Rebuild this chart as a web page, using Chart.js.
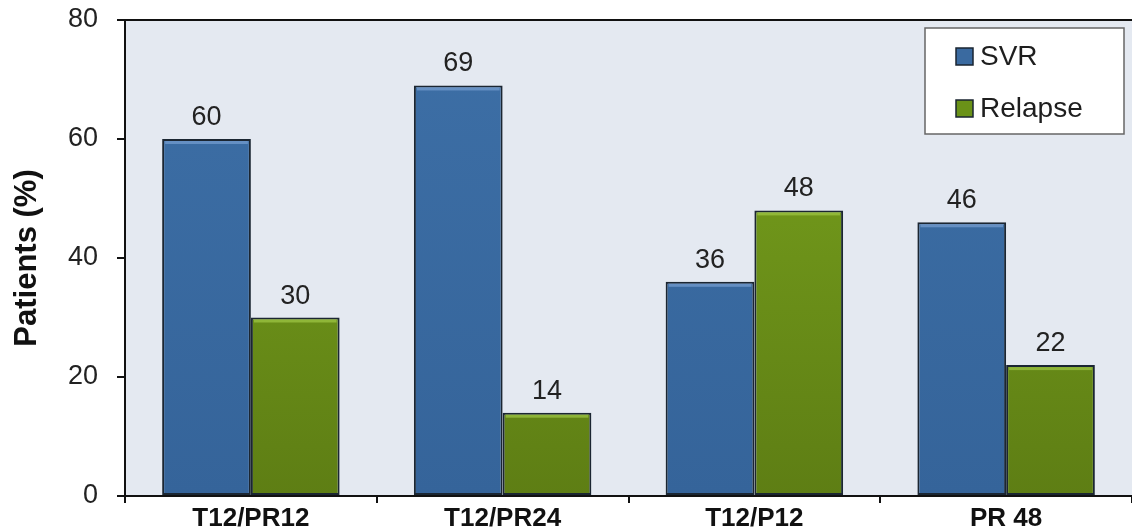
<!DOCTYPE html>
<html lang="en">
<head>
<meta charset="UTF-8">
<title>SVR vs Relapse</title>
<script src="https://cdn.jsdelivr.net/npm/chart.js"></script>
<style>
  html, body { margin: 0; padding: 0; background: #fff; }
  #wrap { width: 1132px; height: 532px; position: relative; }
</style>
</head>
<body>
<div id="wrap"><canvas id="grafica"></canvas></div>
<script>
// data
const categorias = ['T12/PR12', 'T12/PR24', 'T12/P12', 'PR 48'];
const svr = [60, 69, 36, 46];
const relapse = [30, 14, 48, 22];
const yTicks = [0, 20, 40, 60, 80];

const FONT = '"Liberation Sans", Arial, sans-serif';

function gradiente(ctx, top, bottom) {
    const area = ctx.chart.chartArea;
    if (!area) return top;
    const g = ctx.chart.ctx.createLinearGradient(0, area.top, 0, area.bottom);
    g.addColorStop(0, top);
    g.addColorStop(1, bottom);
    return g;
}

// fondo del area, linea superior, etiquetas y leyenda
const extras = {
    id: 'extras',
    beforeDraw(chart) {
        const { ctx, chartArea: a } = chart;
        ctx.save();
        ctx.fillStyle = '#e4e9f1';
        ctx.fillRect(a.left, a.top, a.right - a.left, a.bottom - a.top);
        ctx.restore();
    },
    afterDatasetsDraw(chart) {
        const { ctx, chartArea: a } = chart;
        ctx.save();
        // linea superior
        ctx.strokeStyle = '#111';
        ctx.lineWidth = 2;
        ctx.beginPath();
        ctx.moveTo(a.left, a.top);
        ctx.lineTo(a.right, a.top);
        ctx.stroke();

        // brillo arriba de cada barra
        chart.data.datasets.forEach((ds, i) => {
            chart.getDatasetMeta(i).data.forEach(bar => {
                const x0 = bar.x - bar.width / 2 + 3;
                ctx.fillStyle = i === 0 ? 'rgba(120,160,210,0.7)' : 'rgba(160,200,70,0.7)';
                ctx.fillRect(x0, bar.y + 2, bar.width - 6, 3);
            });
        });

        // valores sobre las barras
        ctx.fillStyle = '#222';
        ctx.font = '27px ' + FONT;
        ctx.textAlign = 'center';
        ctx.textBaseline = 'alphabetic';
        chart.data.datasets.forEach((ds, i) => {
            chart.getDatasetMeta(i).data.forEach((bar, j) => {
                ctx.fillText(ds.data[j], bar.x, bar.y - 14);
            });
        });

        // leyenda
        const lx = 925, ly = 28, lw = 199, lh = 106;
        ctx.fillStyle = '#fff';
        ctx.fillRect(lx, ly, lw, lh);
        ctx.strokeStyle = '#666';
        ctx.lineWidth = 1.5;
        ctx.strokeRect(lx, ly, lw, lh);
        const items = [
            { label: chart.data.datasets[0].label, color: '#3a6aa0', y: 56 },
            { label: chart.data.datasets[1].label, color: '#6a9218', y: 108 }
        ];
        ctx.textAlign = 'left';
        ctx.textBaseline = 'middle';
        ctx.font = '28px ' + FONT;
        items.forEach(it => {
            ctx.fillStyle = it.color;
            ctx.fillRect(956, it.y - 8, 17, 17);
            ctx.strokeStyle = '#1a2530';
            ctx.lineWidth = 1.5;
            ctx.strokeRect(956, it.y - 8, 17, 17);
            ctx.fillStyle = '#1e1e1e';
            ctx.fillText(it.label, 980, it.y + 1);
        });
        ctx.restore();
    }
};

const grafica = new Chart(document.getElementById('grafica'), {
    type: 'bar',
    data: {
        labels: categorias,
        datasets: [
            {
                label: 'SVR',
                data: svr,
                backgroundColor: c => gradiente(c, '#3d6fa6', '#35649a'),
                borderColor: '#1b2632',
                borderWidth: 2,
                borderSkipped: false
            },
            {
                label: 'Relapse',
                data: relapse,
                backgroundColor: c => gradiente(c, '#7aa41e', '#5e7e14'),
                borderColor: '#1b2632',
                borderWidth: 2,
                borderSkipped: false
            }
        ]
    },
    options: {
        responsive: true,
        maintainAspectRatio: false,
        animation: false,
        layout: { padding: { top: 20, right: 0, left: 0, bottom: 0 } },
        categoryPercentage: 0.705,
        barPercentage: 1.0,
        plugins: {
            legend: { display: false },
            tooltip: { enabled: false }
        },
        scales: {
            x: {
                grid: {
                    display: true,
                    offset: true,
                    drawOnChartArea: false,
                    drawTicks: true,
                    tickLength: 7,
                    color: '#111',
                    lineWidth: 2
                },
                border: { display: true, color: '#111', width: 2 },
                ticks: {
                    color: '#111',
                    font: { family: FONT, size: 26, weight: 'bold' },
                    padding: 0
                },
                afterFit(scale) {
                    scale.height = 36;
                    scale.paddingLeft = 0;
                    scale.paddingRight = 0;
                }
            },
            y: {
                min: 0,
                max: 80,
                afterBuildTicks(scale) { scale.ticks = yTicks.map(v => ({ value: v })); },
                grid: {
                    display: true,
                    drawOnChartArea: false,
                    drawTicks: true,
                    tickLength: 8,
                    color: '#111',
                    lineWidth: 2
                },
                border: { display: true, color: '#111', width: 2 },
                ticks: {
                    color: '#222',
                    font: { family: FONT, size: 27 },
                    padding: 19
                },
                title: {
                    display: true,
                    text: 'Patients (%)',
                    color: '#111',
                    font: { family: FONT, size: 31, weight: 'bold' },
                    padding: { top: 9, bottom: 0 }
                },
                afterFit(scale) {
                    scale.width = 125;
                    scale.paddingTop = 0;
                    scale.paddingBottom = 0;
                }
            }
        }
    },
    plugins: [extras]
});
</script>
</body>
</html>
